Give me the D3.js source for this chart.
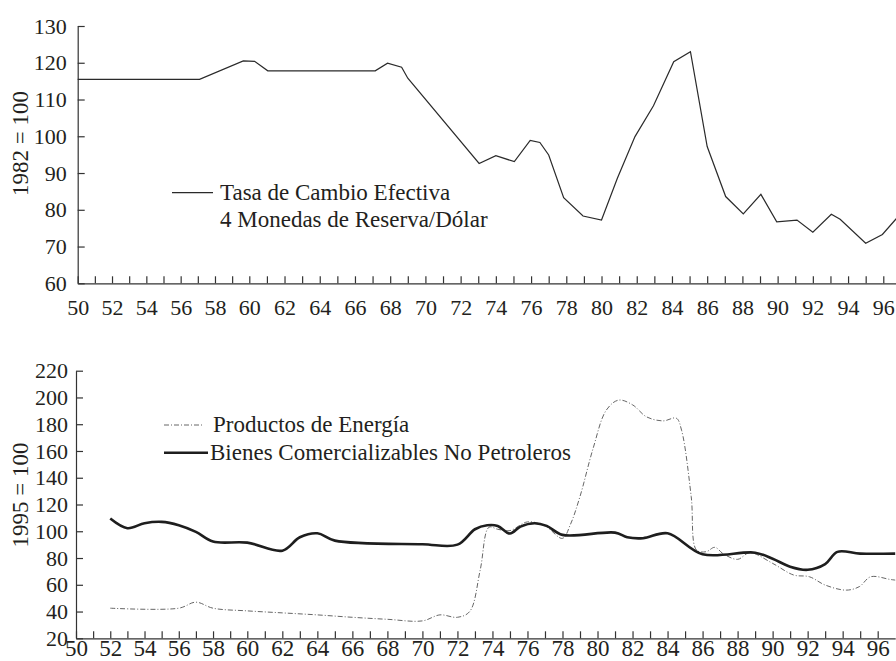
<!DOCTYPE html>
<html>
<head>
<meta charset="utf-8">
<script src="https://cdn.jsdelivr.net/npm/d3@7"></script>
<style>
  body { margin: 0; background: #fff; }
  svg { display: block; font-family: "Liberation Serif", "Times New Roman", serif; }
  .axis path, .axis line { stroke: #333; stroke-width: 1.2; }
  .axis text { fill: #231f20; font-family: "Liberation Serif", "Times New Roman", serif; }
</style>
</head>
<body>
<script>
// chart size
const w = 896;
const h = 661;

// top panel: effective exchange rate, 1982 = 100
const tasaYears = [50, 57.1, 59.65, 60.3, 61.05, 67.15, 67.85, 68.65, 69, 73.05, 74, 75.05, 75.95, 76.5, 77, 77.85, 78.95, 80, 80.9, 81.9, 82.95, 84.1, 85.05, 86, 87.05, 88.05, 89.05, 89.95, 91.1, 92, 93.05, 93.55, 95, 95.95, 97];
const tasaValues = [115.5, 115.5, 120.5, 120.4, 117.8, 117.8, 119.9, 118.8, 115.8, 92.6, 94.7, 93.1, 98.9, 98.3, 94.9, 83.3, 78.3, 77.2, 88.6, 99.9, 108.3, 120.3, 123, 97.2, 83.6, 78.9, 84.2, 76.7, 77.2, 73.9, 78.8, 77.4, 70.9, 73.3, 79];
const topYTicks = [60, 70, 80, 90, 100, 110, 120, 130];

// bottom panel: 1995 = 100
const energiaYears = [52, 56, 57, 58, 60, 62, 64, 66, 68, 70, 71, 72, 72.7, 73.3, 73.8, 74.3, 75, 76, 77, 78, 78.45, 79, 79.75, 80.5, 81.2, 82, 82.8, 83.75, 84.5, 84.8, 85.35, 85.65, 86.2, 86.7, 87.2, 88, 88.7, 90, 91.2, 92.1, 93, 94.2, 94.95, 95.6, 96.7, 97];
const energiaValues = [42.5, 42.5, 47, 42.5, 40.5, 39, 37.5, 35.7, 34.2, 33, 37.5, 35.7, 40, 71, 103, 101.5, 100.5, 107, 104, 94.7, 105, 126, 162, 190.5, 198, 194.5, 185.5, 182.5, 184.5, 175.5, 126, 86, 84.7, 88, 83, 79, 84, 76, 67.3, 66, 59.8, 56, 58.6, 66, 64, 63.5];
const bienesYears = [52, 53, 54, 55, 56, 57, 58, 60, 62, 63, 64, 65, 70, 72, 73, 73.7, 74.3, 75, 75.6, 76.4, 77.1, 78, 81, 81.7, 82.6, 84, 86, 89, 90, 91, 92, 93, 93.7, 95, 97];
const bienesValues = [109.5, 102.3, 106, 107, 104.5, 99.5, 92.3, 91.5, 85.5, 95.5, 98.5, 93, 90.3, 90, 101.5, 104.5, 104, 98.3, 103.5, 106, 104, 97.3, 99, 95.5, 94.8, 98.5, 82.8, 84, 79.5, 73.5, 71.2, 75.5, 84.6, 83.3, 83.3];
const botYTicks = [20, 40, 60, 80, 100, 120, 140, 160, 180, 200, 220];

const yearTicks = d3.range(50, 97);

const svg = d3.select("body")
  .append("svg")
  .attr("width", w)
  .attr("height", h);

// ---------- top panel ----------
const x1 = d3.scaleLinear().domain([50, 60, 97]).range([77.7, 249.3, 900.9]);
const y1 = d3.scaleLinear().domain([60, 130]).range([283.3, 26]);

svg.append("g")
  .attr("class", "axis")
  .attr("transform", "translate(0," + y1(60) + ")")
  .call(d3.axisBottom(x1).tickValues(yearTicks).tickSizeInner(-7).tickSizeOuter(0).tickPadding(16)
    .tickFormat(d => d % 2 === 0 ? d : ""))
  .call(g => g.selectAll("text").style("font-size", "22px"));

svg.append("g")
  .attr("class", "axis")
  .attr("transform", "translate(" + x1(50) + ",0)")
  .call(d3.axisLeft(y1).tickValues(topYTicks).tickSizeInner(-7).tickSizeOuter(0).tickPadding(11))
  .call(g => g.selectAll("text").style("font-size", "22px"));

const tasa = tasaYears.map((d, i) => [d, tasaValues[i]]);
svg.append("path")
  .datum(tasa)
  .attr("fill", "none")
  .attr("stroke", "#2a2a2a")
  .attr("stroke-width", 1.2)
  .attr("d", d3.line().x(d => x1(d[0])).y(d => y1(d[1])));

svg.append("text")
  .attr("transform", "translate(28,143.5) rotate(-90)")
  .attr("text-anchor", "middle")
  .style("font-size", "23px")
  .attr("fill", "#231f20")
  .text("1982 = 100");

// legend top
svg.append("line")
  .attr("x1", 172).attr("x2", 213).attr("y1", 192.7).attr("y2", 192.7)
  .attr("stroke", "#2a2a2a").attr("stroke-width", 1.2);
svg.append("text").attr("x", 220).attr("y", 200).style("font-size", "23px").attr("fill", "#231f20")
  .text("Tasa de Cambio Efectiva");
svg.append("text").attr("x", 220).attr("y", 226.5).style("font-size", "23px").attr("fill", "#231f20")
  .text("4 Monedas de Reserva/Dólar");

// ---------- bottom panel ----------
const x2 = d3.scaleLinear().domain([50, 60, 97]).range([76, 247.3, 895.2]);
const y2 = d3.scaleLinear().domain([20, 220]).range([638.3, 370.7]);

svg.append("g")
  .attr("class", "axis")
  .attr("transform", "translate(0," + y2(20) + ")")
  .call(d3.axisBottom(x2).tickValues(yearTicks).tickSizeInner(-7).tickSizeOuter(0).tickPadding(1)
    .tickFormat(d => d % 2 === 0 ? d : ""))
  .call(g => g.selectAll("text").style("font-size", "23px"));

svg.append("g")
  .attr("class", "axis")
  .attr("transform", "translate(" + x2(50) + ",0)")
  .call(d3.axisLeft(y2).tickValues(botYTicks).tickSizeInner(-7).tickSizeOuter(0).tickPadding(8))
  .call(g => g.selectAll("text").style("font-size", "22px"));

const line2 = d3.line().curve(d3.curveCatmullRom.alpha(0.5)).x(d => x2(d[0])).y(d => y2(d[1]));

const energia = energiaYears.map((d, i) => [d, energiaValues[i]]);
svg.append("path")
  .datum(energia)
  .attr("fill", "none")
  .attr("stroke", "#666")
  .attr("stroke-width", 1)
  .attr("stroke-dasharray", "5,2,1,2")
  .attr("d", line2);

const bienes = bienesYears.map((d, i) => [d, bienesValues[i]]);
svg.append("path")
  .datum(bienes)
  .attr("fill", "none")
  .attr("stroke", "#1e1e1e")
  .attr("stroke-width", 2.6)
  .attr("d", line2);

svg.append("text")
  .attr("transform", "translate(28,495) rotate(-90)")
  .attr("text-anchor", "middle")
  .style("font-size", "23px")
  .attr("fill", "#231f20")
  .text("1995 = 100");

// legend bottom
svg.append("line")
  .attr("x1", 164).attr("x2", 204).attr("y1", 425).attr("y2", 425)
  .attr("stroke", "#666").attr("stroke-width", 1).attr("stroke-dasharray", "5,2,1,2");
svg.append("text").attr("x", 213).attr("y", 431.7).style("font-size", "23px").attr("fill", "#231f20")
  .text("Productos de Energía");
svg.append("line")
  .attr("x1", 164).attr("x2", 208).attr("y1", 452.7).attr("y2", 452.7)
  .attr("stroke", "#1e1e1e").attr("stroke-width", 2.6);
svg.append("text").attr("x", 210).attr("y", 460).style("font-size", "23px").attr("fill", "#231f20")
  .text("Bienes Comercializables No Petroleros");
</script>
</body>
</html>
